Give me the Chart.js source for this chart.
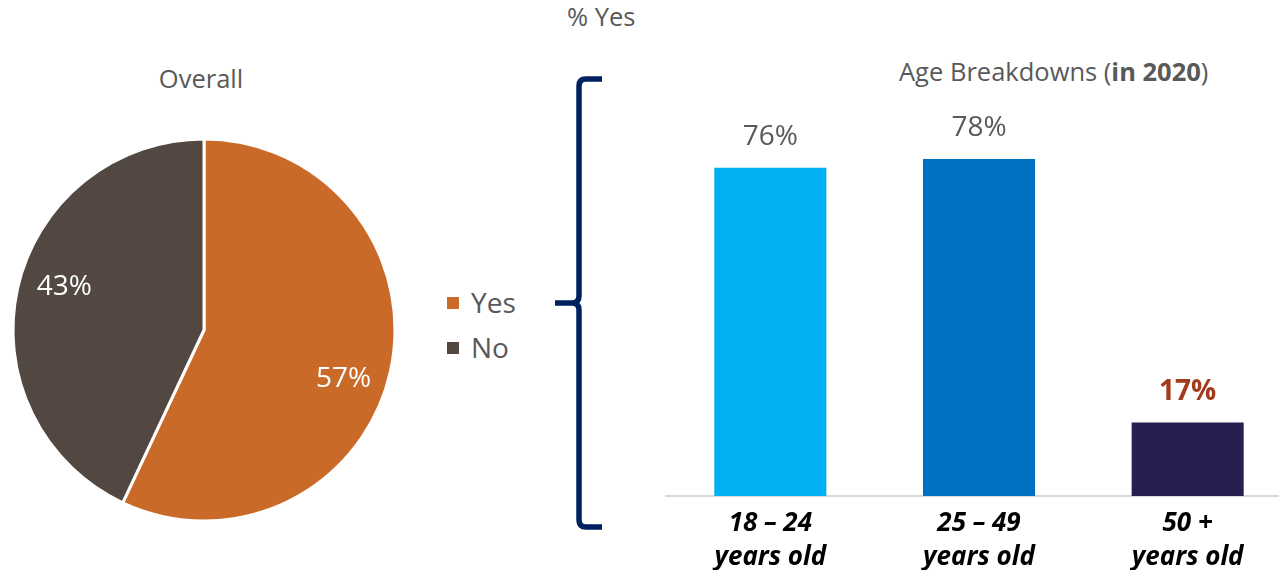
<!DOCTYPE html>
<html>
<head>
<meta charset="utf-8">
<script src="https://cdn.jsdelivr.net/npm/chart.js@4.4.0/dist/chart.umd.min.js"></script>
<style>
  html, body { margin: 0; padding: 0; width: 1279px; height: 570px; overflow: hidden; background: #fff; font-family: "Open Sans", sans-serif; color: #595959; }
  .abs { position: absolute; }
  .t { line-height: 1; white-space: nowrap; }
  #pieWrap { left: 4px; top: 130px; width: 400px; height: 400px; }
  #barWrap { left: 660px; top: 0px; width: 632px; height: 570px; }
  .leg { position: absolute; font-size: 28px; line-height: 1; }
  .leg .sw { position: absolute; width: 12px; height: 12px; left: -24px; top: 9px; }
</style>
</head>
<body>
<div class="abs t" id="overall" style="left:0; width:402px; text-align:center; top:66px; font-size:25.5px;">Overall</div>
<div class="abs t" style="left:567px; top:4px; font-size:25.5px;">% Yes</div>
<div class="abs t" style="left:899px; top:59px; font-size:25.5px;">Age Breakdowns (<b>in 2020</b>)</div>
<div id="legend"></div>
<svg class="abs" style="left:0; top:0;" width="1279" height="570">
  <path d="M602,79 H586 Q579,79 579,86 V296 Q579,303 572,303 H555 M572,303 Q579,303 579,310 V520 Q579,527 586,527 H602" fill="none" stroke="#002060" stroke-width="5.5"/>
</svg>
<div class="abs" id="pieWrap"><canvas id="pie" width="400" height="400"></canvas></div>
<div class="abs" id="barWrap"><canvas id="bar" width="632" height="570"></canvas></div>
<script>
// ---- Data ----
const pieLabels = ["Yes", "No"];
const pieValues = [57, 43];
const ageCategories = [["18 \u2013 24", "years old"], ["25 \u2013 49", "years old"], ["50 +", "years old"]];
const yesByAge = [76, 78, 17];

// ---- Styles ----
const pieColors = ["#C96A28", "#524741"];
const barColors = ["#00B0F0", "#0070C0", "#262050"];
const barLabelColors = ["#595959", "#595959", "#A33A1C"];
const barLabelWeights = ["normal", "normal", "bold"];

// Legend (HTML)
const legend = document.getElementById('legend');
const legTops = [288, 333];
pieLabels.forEach((lab, i) => {
  const d = document.createElement('div');
  d.className = 'leg';
  d.style.left = '471px';
  d.style.top = legTops[i] + 'px';
  d.innerHTML = '<span class="sw" style="background:' + pieColors[i] + '"></span>' + lab;
  legend.appendChild(d);
});

const pieLabelPlugin = {
  id: 'pieLabels',
  afterDatasetsDraw(chart) {
    const ctx = chart.ctx;
    const meta = chart.getDatasetMeta(0);
    const ds = chart.data.datasets[0];
    ctx.save();
    ctx.font = '28px "Open Sans"';
    ctx.fillStyle = '#ffffff';
    ctx.textAlign = 'center';
    ctx.textBaseline = 'middle';
    meta.data.forEach((arc, i) => {
      const p = arc.getProps(['x', 'y', 'startAngle', 'endAngle', 'outerRadius'], true);
      const mid = (p.startAngle + p.endAngle) / 2 + 0.1;
      const r = p.outerRadius * 0.77;
      ctx.fillText(ds.data[i] + '%', p.x + Math.cos(mid) * r, p.y + Math.sin(mid) * r + 3);
    });
    ctx.restore();
  }
};

new Chart(document.getElementById('pie'), {
  type: 'pie',
  data: {
    labels: pieLabels,
    datasets: [{
      data: pieValues,
      backgroundColor: pieColors,
      borderColor: '#ffffff',
      borderWidth: 3,
      radius: 191
    }]
  },
  options: {
    responsive: false,
    animation: false,
    layout: { padding: 0 },
    plugins: { legend: { display: false }, tooltip: { enabled: false } }
  },
  plugins: [pieLabelPlugin]
});

const barLabelPlugin = {
  id: 'barLabels',
  afterDatasetsDraw(chart) {
    const ctx = chart.ctx;
    const meta = chart.getDatasetMeta(0);
    const ds = chart.data.datasets[0];
    ctx.save();
    ctx.textAlign = 'center';
    ctx.textBaseline = 'middle';
    meta.data.forEach((bar, i) => {
      ctx.font = barLabelWeights[i] + ' 28px "Open Sans"';
      ctx.fillStyle = barLabelColors[i];
      ctx.fillText(ds.data[i] + '%', bar.x, bar.y - 31);
    });
    ctx.restore();
  }
};

new Chart(document.getElementById('bar'), {
  type: 'bar',
  data: {
    labels: ageCategories,
    datasets: [{
      data: yesByAge,
      backgroundColor: barColors,
      barPercentage: 0.537,
      categoryPercentage: 1
    }]
  },
  options: {
    responsive: false,
    animation: false,
    layout: { padding: { left: 6, top: 64, right: 0, bottom: 0 } },
    plugins: { legend: { display: false }, tooltip: { enabled: false } },
    scales: {
      y: { display: false, min: 0, max: 100 },
      x: {
        grid: { display: false, drawTicks: false },
        border: { display: true, color: '#D9D9D9', width: 2 },
        ticks: {
          color: '#000000',
          padding: 11,
          font: { family: '"Open Sans"', size: 26, style: 'italic', weight: 'bold', lineHeight: 1.3 }
        },
        afterFit(scale) { scale.height = 74; }
      }
    }
  },
  plugins: [barLabelPlugin]
});
</script>
</body>
</html>
